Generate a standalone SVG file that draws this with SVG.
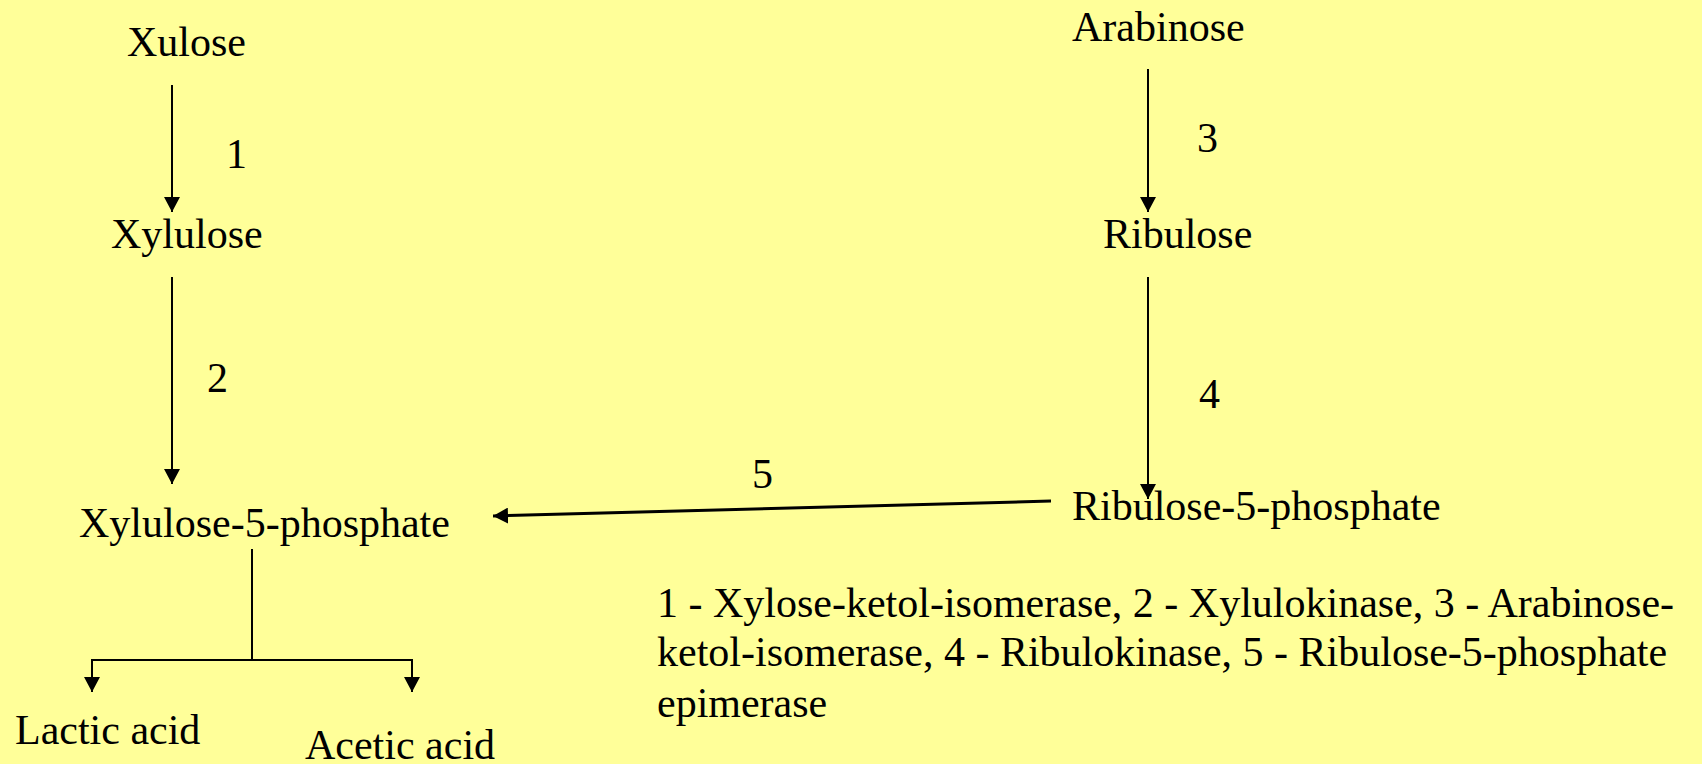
<svg xmlns="http://www.w3.org/2000/svg" width="1702" height="764" viewBox="0 0 1702 764">
<style>
text{font-family:"Liberation Serif","Times New Roman",serif;font-size:42px;fill:#000}
.c{stroke:#000;stroke-width:2;fill:none}
.c5{stroke:#000;stroke-width:3;fill:none}
</style>
<defs>
<marker id="ah" markerUnits="userSpaceOnUse" markerWidth="16" markerHeight="16" refX="15" refY="8" orient="auto">
<path d="M0,0 L15,8 L0,16 z" fill="#000"/>
</marker>
</defs>
<rect width="1702" height="764" fill="#FFFF99"/>
<g id="connectors">
<line class="c" x1="172" y1="85" x2="172" y2="212" marker-end="url(#ah)"/>
<line class="c" x1="172" y1="277" x2="172" y2="484" marker-end="url(#ah)"/>
<line class="c" x1="1148" y1="69" x2="1148" y2="212" marker-end="url(#ah)"/>
<line class="c" x1="1148" y1="277" x2="1148" y2="499" marker-end="url(#ah)"/>
<line class="c5" x1="1051" y1="501" x2="493" y2="516" marker-end="url(#ah)"/>
<polyline class="c" points="252,549 252,660"/>
<polyline class="c" points="92,692 92,660 412,660 412,692"/>
<line class="c" x1="92" y1="670" x2="92" y2="692" marker-end="url(#ah)"/>
<line class="c" x1="412" y1="670" x2="412" y2="692" marker-end="url(#ah)"/>
<text x="226" y="168">1</text>
<text x="207" y="392">2</text>
<text x="1197" y="152">3</text>
<text x="1199" y="408">4</text>
<text x="752" y="488">5</text>
</g>
<g id="xulose"><text x="127" y="56">Xulose</text></g>
<g id="xylulose"><text x="111" y="248">Xylulose</text></g>
<g id="xylulose5p"><text x="79" y="537">Xylulose-5-phosphate</text></g>
<g id="arabinose"><text x="1072" y="41">Arabinose</text></g>
<g id="ribulose"><text x="1103" y="248">Ribulose</text></g>
<g id="ribulose5p"><text x="1072" y="520">Ribulose-5-phosphate</text></g>
<g id="lactic"><text x="15" y="744">Lactic acid</text></g>
<g id="acetic"><text x="305" y="759">Acetic acid</text></g>
<g id="legend">
<text x="657" y="617">1 - Xylose-ketol-isomerase, 2 - Xylulokinase, 3 - Arabinose-</text>
<text x="657" y="666">ketol-isomerase, 4 - Ribulokinase, 5 - Ribulose-5-phosphate</text>
<text x="657" y="717">epimerase</text>
</g>
</svg>
